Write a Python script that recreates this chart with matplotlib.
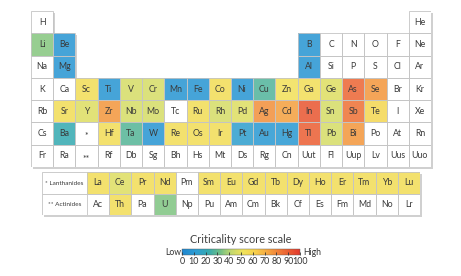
import matplotlib
matplotlib.use('Agg')
import matplotlib.pyplot as plt
from matplotlib.patches import Rectangle
from matplotlib.colors import LinearSegmentedColormap, Normalize
from matplotlib.cm import ScalarMappable

plt.rcParams['font.family'] = ['Lato', 'DejaVu Sans']

# ---------------- data ----------------
period_rows = [
    ['H'] + [''] * 16 + ['He'],
    ['Li', 'Be'] + [''] * 10 + ['B', 'C', 'N', 'O', 'F', 'Ne'],
    ['Na', 'Mg'] + [''] * 10 + ['Al', 'Si', 'P', 'S', 'Cl', 'Ar'],
    ['K', 'Ca', 'Sc', 'Ti', 'V', 'Cr', 'Mn', 'Fe', 'Co', 'Ni', 'Cu', 'Zn', 'Ga', 'Ge', 'As', 'Se', 'Br', 'Kr'],
    ['Rb', 'Sr', 'Y', 'Zr', 'Nb', 'Mo', 'Tc', 'Ru', 'Rh', 'Pd', 'Ag', 'Cd', 'In', 'Sn', 'Sb', 'Te', 'I', 'Xe'],
    ['Cs', 'Ba', '*', 'Hf', 'Ta', 'W', 'Re', 'Os', 'Ir', 'Pt', 'Au', 'Hg', 'Tl', 'Pb', 'Bi', 'Po', 'At', 'Rn'],
    ['Fr', 'Ra', '**', 'Rf', 'Db', 'Sg', 'Bh', 'Hs', 'Mt', 'Ds', 'Rg', 'Cn', 'Uut', 'Fl', 'Uup', 'Lv', 'Uus', 'Uuo'],
]
lanthanides = ['La', 'Ce', 'Pr', 'Nd', 'Pm', 'Sm', 'Eu', 'Gd', 'Tb', 'Dy', 'Ho', 'Er', 'Tm', 'Yb', 'Lu']
actinides = ['Ac', 'Th', 'Pa', 'U', 'Np', 'Pu', 'Am', 'Cm', 'Bk', 'Cf', 'Es', 'Fm', 'Md', 'No', 'Lr']
f_block_labels = ['* Lanthanides', '** Actinides']

scored_elements = ['Li', 'Be', 'Mg', 'B', 'Al',
                   'Sc', 'Ti', 'V', 'Cr', 'Mn', 'Fe', 'Co', 'Ni', 'Cu', 'Zn', 'Ga', 'Ge', 'As', 'Se',
                   'Sr', 'Y', 'Zr', 'Nb', 'Mo', 'Ru', 'Rh', 'Pd', 'Ag', 'Cd', 'In', 'Sn', 'Sb', 'Te',
                   'Ba', 'Hf', 'Ta', 'W', 'Re', 'Os', 'Ir', 'Pt', 'Au', 'Hg', 'Tl', 'Pb', 'Bi',
                   'La', 'Ce', 'Pr', 'Nd', 'Sm', 'Eu', 'Gd', 'Tb', 'Dy', 'Ho', 'Er', 'Tm', 'Yb', 'Lu',
                   'Th', 'U']
criticality_scores = [35, 8, 8, 8, 8,
                      55, 8, 46, 46, 8, 8, 55, 8, 27, 53, 54, 48, 88, 76,
                      55, 48, 76, 46, 46, 55, 46, 48, 78, 74, 92, 46, 85, 58,
                      22, 55, 28, 8, 55, 55, 55, 14, 10, 10, 90, 46, 76,
                      55, 48, 55, 55, 55, 55, 55, 55, 55, 55, 55, 55, 55, 55,
                      55, 34]
cbar_ticks = [0, 10, 20, 30, 40, 50, 60, 70, 80, 90, 100]

# ---------------- styling ----------------
W, H = 461, 276
cmap = LinearSegmentedColormap.from_list('crit', [
    (0.00, '#1f86cf'), (0.12, '#2d9dd3'), (0.22, '#34a9b0'), (0.32, '#6dbe86'),
    (0.42, '#c4d86e'), (0.52, '#f0e25a'), (0.62, '#f7cf4c'), (0.72, '#f5a941'),
    (0.84, '#ef7536'), (1.00, '#e2392d')])
norm = Normalize(0, 100)
score_of = dict(zip(scored_elements, criticality_scores))
EDGE = '#c4c4c4'
TXT = '#3a3a3a'
SHADOW = '#d0d0d0'
FS = 6.3
CELL_ALPHA = 0.86

fig = plt.figure(figsize=(W / 100, H / 100), dpi=100)
fig.patch.set_facecolor('white')


def px_axes(l, t, r, b):
    ax = fig.add_axes([l / W, 1 - b / H, (r - l) / W, (b - t) / H])
    ax.set_axis_off()
    return ax


def draw_cell(ax, x, y, sym, w=1.0):
    ax.add_patch(Rectangle((x, y), w, 1, facecolor='white', edgecolor='none', zorder=2))
    if sym in score_of:
        ax.add_patch(Rectangle((x, y), w, 1, facecolor=cmap(norm(score_of[sym])),
                               edgecolor='none', alpha=CELL_ALPHA, zorder=2.5))
    ax.add_patch(Rectangle((x, y), w, 1, facecolor='none', edgecolor=EDGE, lw=0.6, zorder=2.8))
    dy = 0.15 if sym in ('*', '**') else 0.0
    ax.text(x + w / 2, y + 0.5 + dy, sym, ha='center', va='center', fontsize=FS,
            color=TXT, zorder=3)


# main table
ax = px_axes(31, 11, 431, 167)
ax.set_xlim(0, 18)
ax.set_ylim(7, 0)
for r, row in enumerate(period_rows):
    for c, sym in enumerate(row):
        if sym:
            ax.add_patch(Rectangle((c + 0.07, r + 0.07), 1, 1, facecolor=SHADOW,
                                   edgecolor='none', zorder=1, clip_on=False))
for r, row in enumerate(period_rows):
    for c, sym in enumerate(row):
        if sym:
            draw_cell(ax, c, r, sym)

# f-block
label_w = 45 / 22.2
axf = px_axes(42, 172, 420, 215)
axf.set_xlim(-label_w, 15)
axf.set_ylim(2, 0)
axf.add_patch(Rectangle((-label_w + 0.08, 0.08), 15 + label_w, 2, facecolor=SHADOW,
                        edgecolor='none', zorder=1, clip_on=False))
for r, (lab, series) in enumerate(zip(f_block_labels, [lanthanides, actinides])):
    axf.add_patch(Rectangle((-label_w, r), label_w, 1, facecolor='white',
                            edgecolor=EDGE, lw=0.6, zorder=2))
    axf.text(-label_w / 2, r + 0.52, lab, ha='center', va='center', fontsize=4.6,
             color=TXT, zorder=3)
    for c, sym in enumerate(series):
        draw_cell(axf, c, r, sym)

# colour bar
cax = fig.add_axes([182 / W, 1 - 255 / H, (300 - 182) / W, 6 / H])
cb = fig.colorbar(ScalarMappable(norm=norm, cmap=cmap), cax=cax, orientation='horizontal',
                  ticks=cbar_ticks)
cb.outline.set_linewidth(0.3)
cb.outline.set_edgecolor('#555555')
cax.tick_params(direction='in', length=2.2, width=0.6, color='#333333', labelsize=6.4,
                labelcolor='#333333', pad=1.5)
cax.set_xticklabels([str(t) for t in cbar_ticks])
fig.text(181 / W, 1 - 252.5 / H, 'Low', ha='right', va='center', fontsize=6.2, color='#333333')
fig.text(303 / W, 1 - 252.5 / H, 'High', ha='left', va='center', fontsize=6.2, color='#333333')
fig.text(241 / W, 1 - 239.5 / H, 'Criticality score scale', ha='center', va='center',
         fontsize=7.8, color='#404040')

fig.savefig('out.png', dpi=100, facecolor='white')
